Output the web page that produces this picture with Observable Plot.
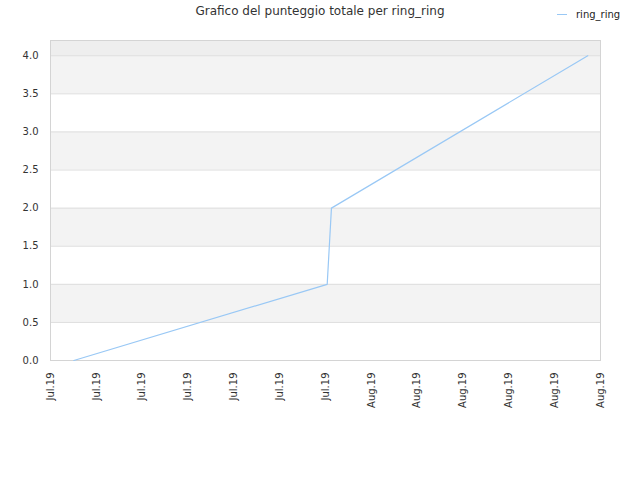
<!DOCTYPE html>
<html>
<head>
<meta charset="utf-8">
<script src="https://cdn.jsdelivr.net/npm/d3@7"></script>
<script src="https://cdn.jsdelivr.net/npm/@observablehq/plot@0.6"></script>
<style>
  body { margin: 0; background: #fff; font-family: "DejaVu Sans", sans-serif; }
  #wrap { position: relative; width: 640px; height: 480px; }
  #title { position: absolute; top: 4px; left: 0; width: 640px; text-align: center; font-size: 12px; color: #333; }
  #legend { position: absolute; top: 9px; left: 557px; font-size: 10px; color: #222; display: flex; align-items: center; }
  #legend span.sw { display: inline-block; width: 10px; height: 0; border-top: 1px solid #99c8f5; margin-right: 9px; }
</style>
</head>
<body>
<div id="wrap">
  <div id="title">Grafico del punteggio totale per ring_ring</div>
  <div id="legend"><span class="sw"></span><span>ring_ring</span></div>
</div>
<script>
const seriesName = "ring_ring";
const dates = ["2019-07-13T12:40Z", "2019-07-30T02:40Z", "2019-07-30T09:20Z", "2019-08-16T04:00Z"];
const scores = [0, 1, 2, 4];
const xTicks = ["2019-07-12", "2019-07-15", "2019-07-18", "2019-07-21", "2019-07-24", "2019-07-27", "2019-07-30",
                "2019-08-02", "2019-08-05", "2019-08-08", "2019-08-11", "2019-08-14", "2019-08-17"];
const yTicks = [0, 0.5, 1, 1.5, 2, 2.5, 3, 3.5, 4];
const yMax = 4.2;

const data = dates.map((d, i) => ({date: new Date(d), score: scores[i]}));
const tickDates = xTicks.map(d => new Date(d + "T00:00Z"));

const bandEdges = [...yTicks, yMax];
const bands = bandEdges.slice(0, -1).map((y, i) => ({y1: y, y2: bandEdges[i + 1], i}));
const bandFill = b => b.y1 >= 4 ? "#eeeeee" : (b.i % 2 === 1 ? "#f3f3f3" : "#ffffff");

const fmt = d3.utcFormat("%b.%y");

const chart = Plot.plot({
  width: 640,
  height: 480,
  marginLeft: 50,
  marginRight: 40,
  marginTop: 40,
  marginBottom: 120,
  style: {fontFamily: "DejaVu Sans, sans-serif", fontSize: "10px", color: "#333", background: "#fff"},
  x: {type: "utc", domain: [tickDates[0], tickDates[tickDates.length - 1]]},
  y: {domain: [0, yMax]},
  marks: [
    Plot.rect(bands, {y1: "y1", y2: "y2", fill: bandFill}),
    Plot.ruleY(yTicks, {stroke: "#dddddd"}),
    Plot.frame({stroke: "#d4d4d4"}),
    Plot.axisY(yTicks, {tickSize: 0, tickPadding: 12, tickFormat: d => d.toFixed(1), label: null, fill: "#333"}),
    Plot.axisX(tickDates, {tickSize: 0, tickPadding: 12, tickRotate: -90, tickFormat: fmt, label: null, fill: "#333"}),
    Plot.line(data, {x: "date", y: "score", stroke: "#99c8f5", strokeWidth: 1.2})
  ]
});
document.getElementById("wrap").prepend(chart);
chart.style.position = "absolute";
chart.style.top = "0";
chart.style.left = "0";
</script>
</body>
</html>
